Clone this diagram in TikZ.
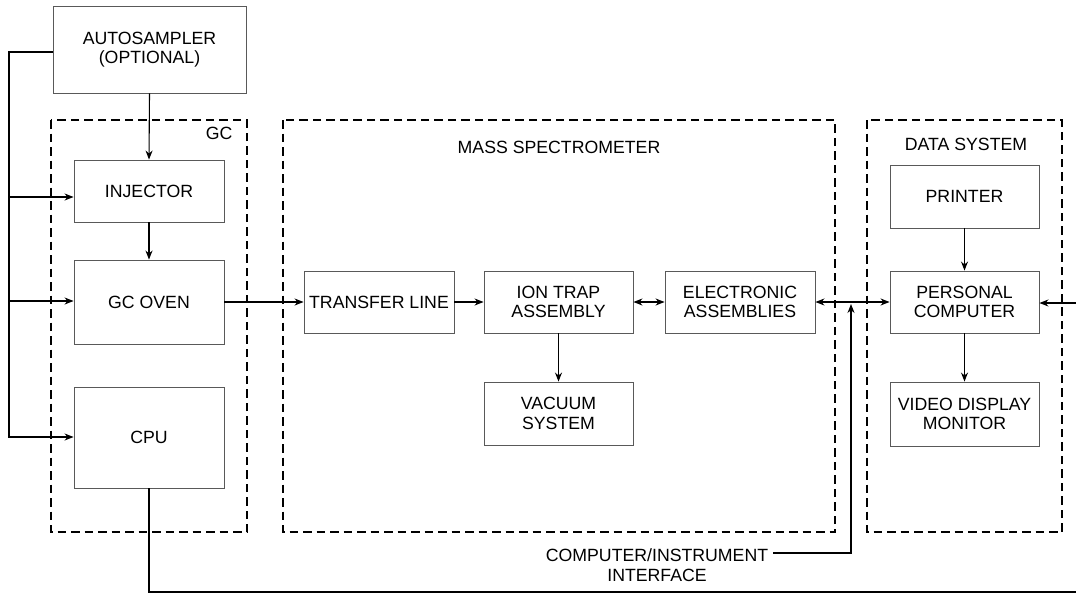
\documentclass[tikz,border=0pt]{standalone}
\usepackage{fontspec}
\setmainfont{Liberation Sans}
\usetikzlibrary{arrows.meta}
\begin{document}
\begin{tikzpicture}[x=1pt,y=-1pt,
  every node/.style={font=\fontsize{17.7}{19.5}\selectfont, text=black, align=center},
  box/.style={draw=black!65, line width=0.9pt, inner sep=0pt},
  group/.style={draw=black, line width=1.8pt, dash pattern=on 8.5pt off 5pt},
  conn/.style={draw=black, line width=1.1pt},
  arr/.style={conn, -{Stealth[length=9pt,width=7pt]}},
  darr/.style={conn, {Stealth[length=9pt,width=7pt]}-{Stealth[length=9pt,width=7pt]}}]
\useasboundingbox (0,0) rectangle (1076,594);
\fill[white] (0,0) rectangle (1076,594);

% dashed groups
\draw[group] (51,120) rectangle (247,532);
\draw[group] (283,120) rectangle (835,532);
\draw[group] (867,120) rectangle (1062,532);
\node[anchor=east] (gclbl) at (236,133) {GC};
\node (mslbl) at (559,147) {MASS SPECTROMETER};
\node (dslbl) at (966,144) {DATA SYSTEM};

% boxes
\node[box, minimum width=193pt, minimum height=87pt] (auto) at (149.5,49.5) {AUTOSAMPLER\\(OPTIONAL)};
\node[box, minimum width=150pt, minimum height=62pt] (inj) at (149,191) {INJECTOR};
\node[box, minimum width=150pt, minimum height=84pt] (oven) at (149,302) {GC OVEN};
\node[box, minimum width=150pt, minimum height=101pt] (cpu) at (149,437.5) {CPU};
\node[box, minimum width=150pt, minimum height=62pt] (tl) at (379,302) {TRANSFER LINE};
\node[box, minimum width=149pt, minimum height=62pt] (ion) at (558.5,302) {ION TRAP\\ASSEMBLY};
\node[box, minimum width=149pt, minimum height=63pt] (vac) at (558.5,413.5) {VACUUM\\SYSTEM};
\node[box, minimum width=150pt, minimum height=62pt] (elec) at (740,302) {ELECTRONIC\\ASSEMBLIES};
\node[box, minimum width=149pt, minimum height=63pt] (prn) at (964.5,196.5) {PRINTER};
\node[box, minimum width=149pt, minimum height=62pt] (pc) at (964.5,302) {PERSONAL\\COMPUTER};
\node[box, minimum width=149pt, minimum height=64pt] (vdm) at (964.5,414) {VIDEO DISPLAY\\MONITOR};
\node (iflbl) at (657,565) {COMPUTER/INSTRUMENT\\INTERFACE};

% coordinates for bends
\coordinate (lt) at (9,52);
\coordinate (lb) at (9,437);
\coordinate (li) at (9,197);
\coordinate (lo) at (9,301);
\coordinate (ifa) at (773,553);
\coordinate (ifb) at (851,553);
\coordinate (ifc) at (851,304);
\coordinate (cb) at (149,592);
\coordinate (rb) at (1080,592);
\coordinate (rt) at (1080,303);

% connectors
\draw[arr] (auto.west |- lt) -- (lt) -- (lb) -- (cpu.west |- lb);
\draw[arr] (li) -- (inj.west |- li);
\draw[arr] (lo) -- (oven.west |- lo);
\draw[arr] (auto.south) -- (inj.north);
\draw[arr] (inj.south) -- (oven.north);
\draw[arr] (oven.east) -- (tl.west);
\draw[arr] (tl.east) -- (ion.west);
\draw[darr] (ion.east) -- (elec.west);
\draw[arr] (ion.south) -- (vac.north);
\draw[darr] (elec.east) -- (pc.west);
\draw[arr] (prn.south) -- (pc.north);
\draw[arr] (pc.south) -- (vdm.north);
\draw[arr] (ifa) -- (ifb) -- (ifc);
\draw[arr] (cpu.south) -- (cb) -- (rb) -- (rt) -- (pc.east |- rt);
\end{tikzpicture}
\end{document}
